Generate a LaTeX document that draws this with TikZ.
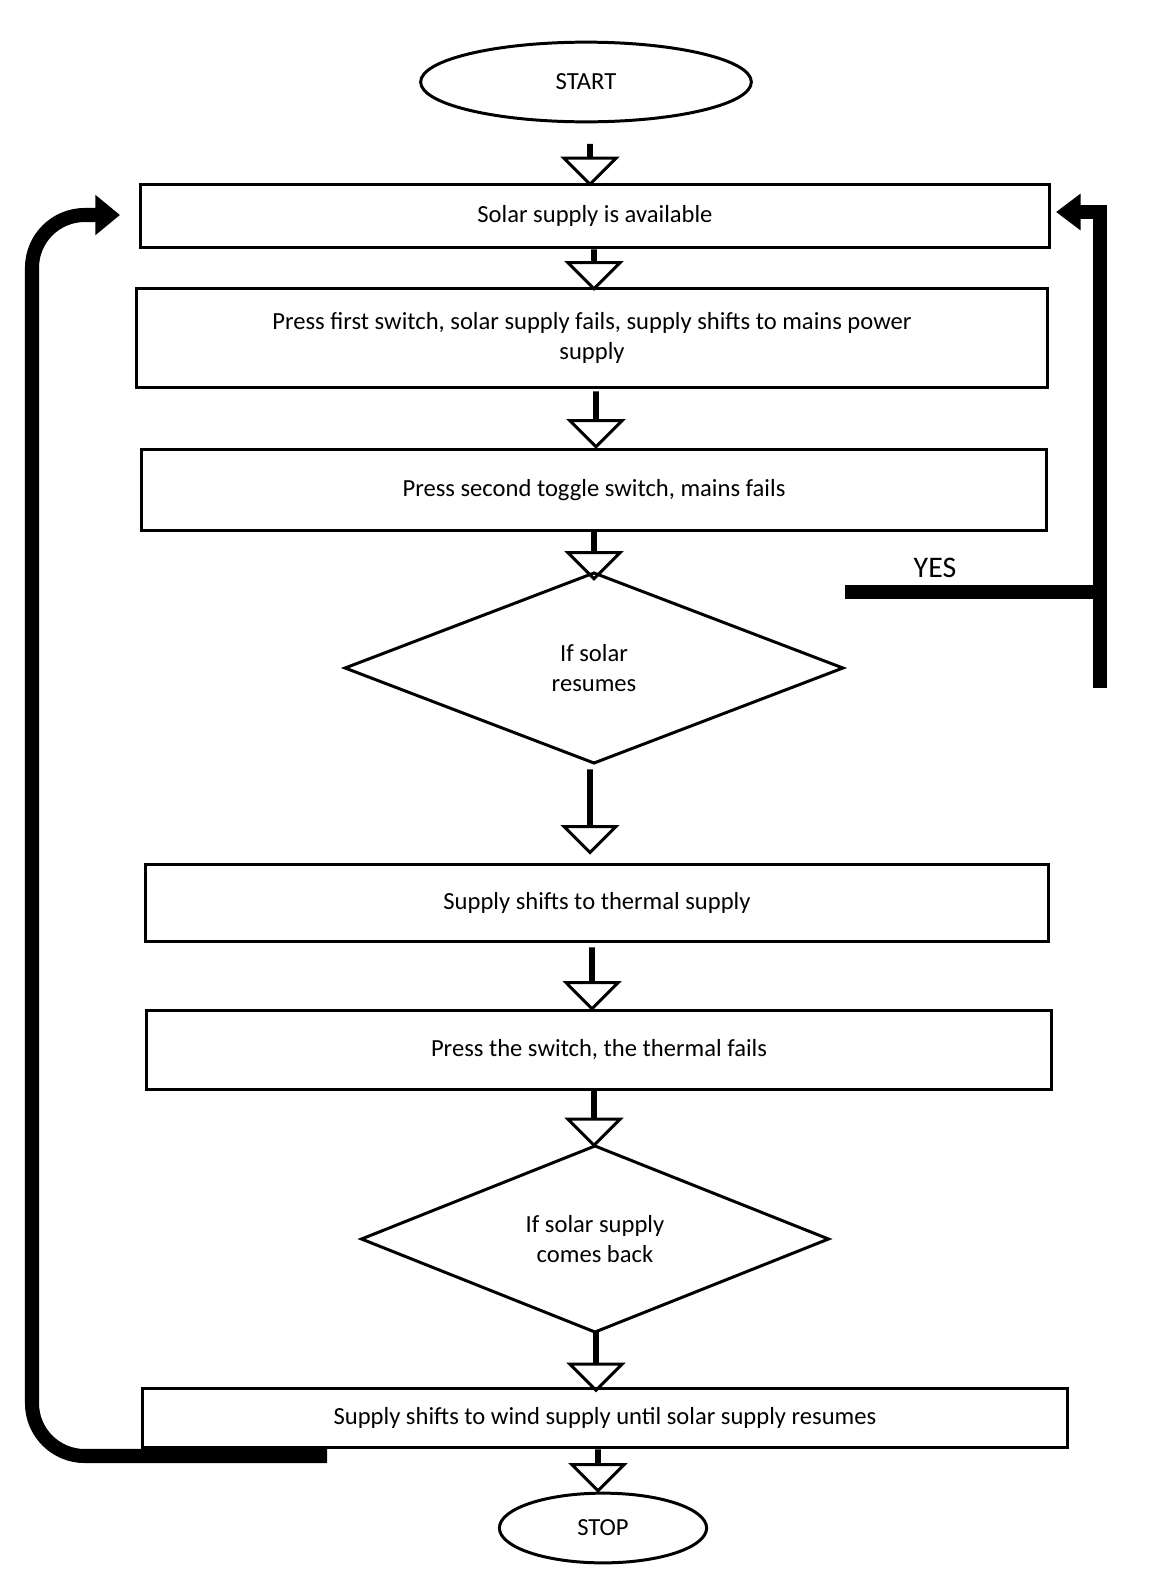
\documentclass[tikz,border=0pt]{standalone}
\usepackage{fontspec}
\setmainfont{Carlito}
\usetikzlibrary{shapes.geometric,shapes.arrows,arrows.meta}

\begin{document}
\begin{tikzpicture}[x=0.02cm, y=-0.02cm, font=\fontsize{14}{17}\selectfont, line width=1.7pt]
	\tikzstyle{boxStyle}=[draw, rectangle, align=center, inner sep=0pt]
	\tikzstyle{endStyle}=[draw, ellipse, inner sep=0pt]
	\tikzstyle{decStyle}=[draw, diamond, aspect=2.6, align=center, inner sep=0pt]
	\tikzstyle{downStyle}=[draw, single arrow, shape border rotate=270, single arrow head extend=14pt, minimum width=18pt, inner sep=0pt]
	\tikzstyle{loopStyle}=[line width=8pt]
	\useasboundingbox (0,0) rectangle (1160,1579);
	% terminals
	\node[endStyle, minimum width=332*0.567pt, minimum height=80*0.567pt] (start) at (586,82) {START};
	\node[endStyle, minimum width=208*0.567pt, minimum height=70*0.567pt] (stop) at (603,1528) {STOP};
	% process boxes
	\node[boxStyle, minimum width=913*0.567pt, minimum height=63*0.567pt] (solar) at (595,216) {Solar supply is available};
	\node[boxStyle, minimum width=914*0.567pt, minimum height=99*0.567pt] (mains) at (592,338) {Press first switch, solar supply fails, supply shifts to mains power\\supply};
	\node[boxStyle, minimum width=909*0.567pt, minimum height=81*0.567pt] (toggle) at (594,490) {Press second toggle switch, mains fails};
	\node[boxStyle, minimum width=907*0.567pt, minimum height=77*0.567pt] (thermal) at (597,903) {Supply shifts to thermal supply};
	\node[boxStyle, minimum width=909*0.567pt, minimum height=80*0.567pt] (thfail) at (599,1050) {Press the switch, the thermal fails};
	\node[boxStyle, minimum width=928*0.567pt, minimum height=59*0.567pt] (wind) at (605,1418) {Supply shifts to wind supply until solar supply resumes};
	% decisions
	\node[decStyle, minimum width=501*0.567pt, minimum height=192*0.567pt] (resume) at (594,668) {If solar\\resumes};
	\node[decStyle, minimum width=470*0.567pt, minimum height=188*0.567pt] (back) at (595,1239) {If solar supply\\comes back};
	% hollow arrows
	\node[downStyle, minimum height=39*0.567pt] (a1) at (590,164) {};
	\node[downStyle, minimum height=38*0.567pt] (a2) at (594,269) {};
	\node[downStyle, minimum height=54*0.567pt] (a3) at (596,419) {};
	\node[downStyle, minimum height=48*0.567pt] (a4) at (594,554) {};
	\node[downStyle, minimum height=82*0.567pt] (a5) at (590,811) {};
	\node[downStyle, minimum height=60*0.567pt] (a6) at (592,978) {};
	\node[downStyle, minimum height=53*0.567pt] (a7) at (594,1118) {};
	\node[downStyle, minimum height=57*0.567pt] (a8) at (596,1361) {};
	\node[downStyle, minimum height=40*0.567pt] (a9) at (598,1470) {};
	% yes branch
	\coordinate (yesL) at (845,592);
	\coordinate (yesR) at (1100,592);
	\coordinate (upB) at (1100,688);
	\coordinate (upT) at (1100,212);
	\coordinate (yesEnd) at (1056,212);
	\draw[loopStyle] (yesL) -- (yesR);
	\draw[loopStyle, -{Triangle[length=14pt,width=20pt]}] (upB) -- (upT) -- (yesEnd);
	\node[font=\fontsize{17}{20}\rmfamily\selectfont] (yes) at (935,568) {YES};
	% return loop
	\coordinate (retS) at (327,1456);
	\coordinate (retC) at (32,1456);
	\coordinate (retT) at (32,215);
	\coordinate (retE) at (120,215);
	\draw[loopStyle, rounded corners=30pt, -{Triangle[length=14pt,width=22pt]}] (retS) -- (retC) -- (retT) -- (retE);
\end{tikzpicture}
\end{document}
